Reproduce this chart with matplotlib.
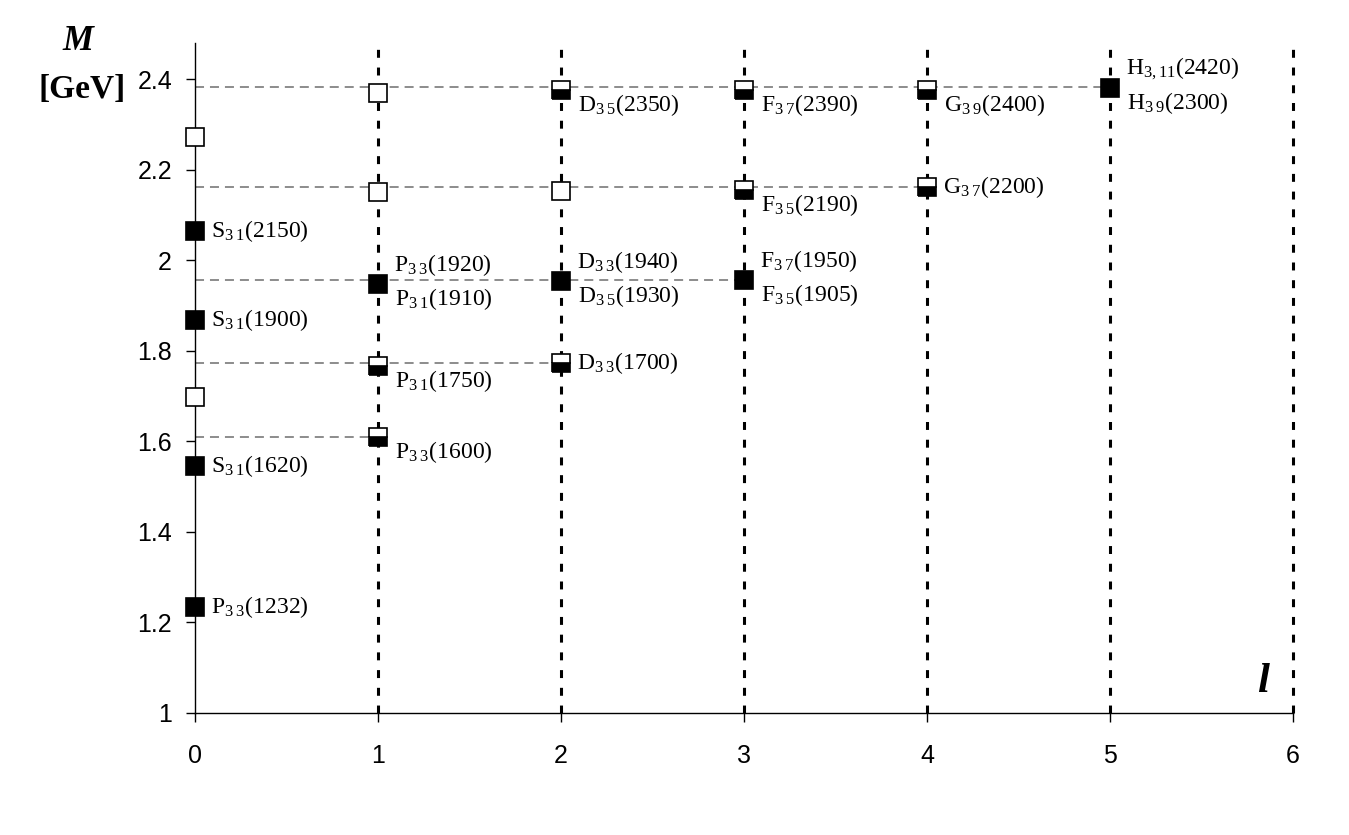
import matplotlib
matplotlib.use("Agg")
import matplotlib.pyplot as plt

# Delta resonances: orbital momentum l, mass M [GeV], status of the marker
l_vals = [0, 0, 0, 0, 0, 0,
          1, 1, 1, 1, 1,
          2, 2, 2, 2,
          3, 3, 3,
          4, 4,
          5]
M_vals = [2.272, 2.064, 1.868, 1.697, 1.545, 1.234,
          2.370, 2.150, 1.947, 1.767, 1.609,
          2.375, 2.152, 1.953, 1.773,
          2.376, 2.154, 1.957,
          2.376, 2.162,
          2.381]
kinds = ['open', 'full', 'full', 'open', 'full', 'full',
         'open', 'open', 'full', 'half', 'half',
         'half', 'open', 'full', 'half',
         'half', 'half', 'full',
         'half', 'half',
         'full']

# horizontal levels and how far they reach in l
levels = [2.383, 2.161, 1.955, 1.773, 1.610]
level_ends = [5, 4, 3, 2, 1]

# state names attached to points (l, M)
label_l = [0, 0, 0, 0,
           1, 1, 1, 1,
           2, 2, 2, 2,
           3, 3, 3, 3,
           4, 4,
           5, 5]
label_M = [2.064, 1.868, 1.545, 1.234,
           1.947, 1.947, 1.767, 1.609,
           2.375, 1.953, 1.953, 1.773,
           2.376, 2.154, 1.957, 1.957,
           2.376, 2.162,
           2.381, 2.381]
label_txt = [r'S$_{3\;1}$(2150)', r'S$_{3\;1}$(1900)', r'S$_{3\;1}$(1620)', r'P$_{3\;3}$(1232)',
             r'P$_{3\;3}$(1920)', r'P$_{3\;1}$(1910)', r'P$_{3\;1}$(1750)', r'P$_{3\;3}$(1600)',
             r'D$_{3\;5}$(2350)', r'D$_{3\;3}$(1940)', r'D$_{3\;5}$(1930)', r'D$_{3\;3}$(1700)',
             r'F$_{3\;7}$(2390)', r'F$_{3\;5}$(2190)', r'F$_{3\;7}$(1950)', r'F$_{3\;5}$(1905)',
             r'G$_{3\;9}$(2400)', r'G$_{3\;7}$(2200)',
             r'H$_{3,11}$(2420)', r'H$_{3\;9}$(2300)']
label_side = ['r', 'r', 'r', 'r',
              'a', 'b', 'b', 'b',
              'b', 'a', 'b', 'r',
              'b', 'b', 'a', 'b',
              'b', 'r',
              'a', 'b']

plt.rcParams['mathtext.fontset'] = 'custom'
plt.rcParams['mathtext.rm'] = 'Liberation Serif'
plt.rcParams['mathtext.it'] = 'Liberation Serif:italic'

fig = plt.figure(figsize=(13.49, 8.35), dpi=100)
ax = fig.add_axes([195/1349, 1 - 712.5/835, (1293 - 195)/1349, (712.5 - 43)/835])

ax.set_xlim(0, 6)
ax.set_ylim(1, 2.48)

# vertical dotted lines at each l
ax.vlines([1, 2, 3, 4, 5, 6], 1, 2.48, colors='black', linestyles=(0, (2.6, 3.2)), lw=2.2,
          zorder=1, clip_on=False)
# horizontal dashed levels
ax.hlines(levels, 0, level_ends, colors='#6e6e6e', linestyles=(0, (5.9, 3.9)), lw=1.1, zorder=1)

for l, m, k in zip(l_vals, M_vals, kinds):
    if k == 'full':
        ax.plot(l, m, 's', ms=13, mfc='black', mec='black', mew=1.2, clip_on=False, zorder=3)
    elif k == 'open':
        ax.plot(l, m, 's', ms=13, mfc='white', mec='black', mew=1.2, clip_on=False, zorder=3)
    else:
        ax.plot(l, m, 's', ms=13, fillstyle='bottom', mfc='black', mfcalt='white',
                mec='black', mew=1.2, clip_on=False, zorder=3)

offsets = {'r': (16, 0), 'a': (16, 19), 'b': (17, -15)}
for l, m, t, s in zip(label_l, label_M, label_txt, label_side):
    ax.annotate(t, (l, m), xytext=offsets[s], textcoords='offset pixels',
                ha='left', va='center', fontsize=17, family='Liberation Serif', zorder=4)

ax.spines['top'].set_visible(False)
ax.spines['right'].set_visible(False)
for sp in ['left', 'bottom']:
    ax.spines[sp].set_linewidth(1.0)
    ax.spines[sp].set_color('black')

ax.set_xticks([0, 1, 2, 3, 4, 5, 6])
ax.set_yticks([1, 1.2, 1.4, 1.6, 1.8, 2.0, 2.2, 2.4])
ax.set_yticklabels(['1', '1.2', '1.4', '1.6', '1.8', '2', '2.2', '2.4'])
ax.tick_params(axis='both', direction='out', length=6.5, width=1, labelsize=18)
ax.tick_params(axis='y', pad=10)
ax.tick_params(axis='x', pad=16)
for lab in ax.get_xticklabels() + ax.get_yticklabels():
    lab.set_family('Liberation Sans')

fig.text(78/1349, 1 - 42/835, 'M', fontsize=25, family='Liberation Serif',
         style='italic', weight='bold', ha='center', va='center')
fig.text(82/1349, 1 - 90/835, '[GeV]', fontsize=24, family='Liberation Serif',
         weight='bold', ha='center', va='center')
fig.text(1263/1349, 1 - 682/835, 'l', fontsize=31, family='Liberation Serif',
         style='italic', weight='bold', ha='center', va='center')

fig.savefig('out.png', dpi=100)
